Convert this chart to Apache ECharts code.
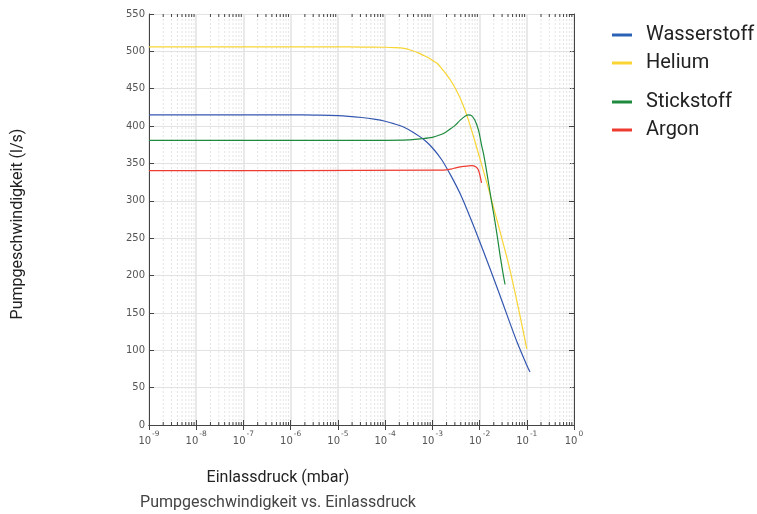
<!DOCTYPE html>
<html>
<head>
<meta charset="utf-8">
<script src="https://cdn.jsdelivr.net/npm/echarts@6/dist/echarts.min.js"></script>
<style>html,body{margin:0;padding:0;background:#fff;}#c{width:757px;height:514px;}</style>
</head>
<body>
<div id="c"></div>
<script>
// ---- data (pressure in mbar, pumping speed in l/s) ----
var wasserstoffP = [1e-9, 1e-8, 1e-7, 1e-6, 3.16e-6, 1e-5, 3.16e-5, 6.31e-5, 1e-4, 1.58e-4, 2.51e-4, 3.98e-4, 6.31e-4, 1e-3, 1.58e-3, 2.51e-3, 3.98e-3, 6.31e-3, 1e-2, 1.58e-2, 2.51e-2, 3.98e-2, 6.31e-2, 0.1, 0.117];
var wasserstoffS = [415, 415, 415, 415, 414.7, 414, 411.5, 409, 406.5, 403, 398.5, 391.5, 383, 371, 355, 333, 308, 278, 246, 213, 179, 144, 110, 80, 71];

var heliumP = [1e-9, 1e-6, 1e-5, 3.16e-5, 1e-4, 1.58e-4, 2.51e-4, 3.16e-4, 3.98e-4, 5.01e-4, 6.31e-4, 7.94e-4, 1e-3, 1.26e-3, 1.58e-3, 2e-3, 2.51e-3, 3.16e-3, 3.98e-3, 5.01e-3, 6.31e-3, 7.94e-3, 1e-2, 1.26e-2, 1.58e-2, 2e-2, 2.51e-2, 3.16e-2, 3.98e-2, 5.01e-2, 6.31e-2, 7.94e-2, 0.1];
var heliumS = [506, 506, 506, 505.8, 505.5, 505, 504, 502.5, 500.5, 498, 495, 492, 488, 484, 477, 469, 460, 449, 436, 420, 401, 380, 358, 336, 314, 290, 267, 243, 219, 192, 163, 133, 102];

var stickstoffP = [1e-9, 1e-6, 1e-4, 3.16e-4, 5.5e-4, 1e-3, 1.58e-3, 2.04e-3, 2.51e-3, 3.16e-3, 3.9e-3, 5.01e-3, 5.9e-3, 6.76e-3, 7.94e-3, 9.55e-3, 1.1e-2, 1.23e-2, 1.45e-2, 1.7e-2, 2e-2, 2.34e-2, 2.75e-2, 3.16e-2, 3.47e-2];
var stickstoffS = [381, 381, 381, 381.5, 383, 385, 389, 393, 397, 402, 408, 413.5, 415, 414, 408, 394, 375, 361, 335, 308, 282, 255, 225, 202, 188];

var argonP = [1e-9, 1e-6, 1e-3, 1.7e-3, 2.51e-3, 3.3e-3, 4.6e-3, 6.8e-3, 8.3e-3, 9.5e-3, 1.1e-2];
var argonS = [340.5, 340.5, 341, 341, 342.5, 344.5, 346, 347, 345.5, 341, 324];

var seriesNames = ['Wasserstoff', 'Helium', 'Stickstoff', 'Argon'];
var seriesColors = ['#3457b0', '#f8d534', '#1f8a3e', '#ee3b30'];
var legendColors = ['#2b62b5', '#f8d534', '#1f8a3e', '#ee3b30'];

var xMin = 1e-9, xMax = 1;
var yMin = 0, yMax = 550, yStep = 50;

var xTitle = 'Einlassdruck (mbar)';
var yTitle = 'Pumpgeschwindigkeit (l/s)';
var subTitle = 'Pumpgeschwindigkeit vs. Einlassdruck';

// minor log ticks 2..9 per decade (axis decoration)
var minorX = [];
for (var e = -9; e < 0; e++) {
  for (var m = 2; m <= 9; m++) minorX.push(m * Math.pow(10, e));
}

function pairs(p, s) { return p.map(function (v, i) { return [v, s[i]]; }); }

var chart = echarts.init(document.getElementById('c'), null, {renderer: 'canvas'});

var labelFont = 'DejaVu Sans';
var textFont = 'Roboto';

function legendCfg(names, colors, top) {
  return {
    data: names.map(function (n, i) { return {name: n, itemStyle: {color: colors[i]}}; }),
    orient: 'vertical', left: 612, top: top, padding: 0, icon: 'rect', itemWidth: 20, itemHeight: 3, itemGap: 8,
    textStyle: {fontFamily: textFont, fontSize: 20, color: '#222', padding: [0, 0, 0, 9]}
  };
}

var option = {
  animation: false,
  backgroundColor: '#fff',
  grid: {left: 149, top: 14, width: 425, height: 411, containLabel: false},
  legend: [
    legendCfg([seriesNames[0], seriesNames[1]], [legendColors[0], legendColors[1]], 25),
    legendCfg([seriesNames[2], seriesNames[3]], [legendColors[2], legendColors[3]], 92)
  ],
  xAxis: [
    {
      type: 'log', logBase: 10, min: xMin, max: xMax, interval: 1, position: 'bottom',
      axisLine: {lineStyle: {color: '#444', width: 1}},
      axisTick: {inside: true, length: 5, lineStyle: {color: '#444'}},
      splitLine: {show: true, lineStyle: {color: '#e2e2e2', width: 1.5}},
      axisLabel: {
        margin: 5,
        formatter: function (v) {
          var ex = Math.round(Math.log(v) / Math.LN10);
          return '{b|10}{e|' + ex + '}';
        },
        rich: {
          b: {fontFamily: labelFont, fontSize: 10, color: '#555', lineHeight: 16, verticalAlign: 'bottom'},
          e: {fontFamily: labelFont, fontSize: 7.5, color: '#555', lineHeight: 16, verticalAlign: 'top', padding: [0, 0, 0, 1]}
        }
      }
    },
    {
      type: 'log', logBase: 10, min: xMin, max: xMax, interval: 1, position: 'top',
      axisLine: {lineStyle: {color: '#444', width: 1}},
      axisTick: {inside: true, length: 5, lineStyle: {color: '#444'}},
      splitLine: {show: false}, axisLabel: {show: false}
    }
  ],
  yAxis: [
    {
      type: 'value', min: yMin, max: yMax, interval: yStep, position: 'left',
      axisLine: {show: true, lineStyle: {color: '#444', width: 1}},
      axisTick: {show: true, inside: true, length: 5, lineStyle: {color: '#444'}},
      splitLine: {show: true, lineStyle: {color: '#e2e2e2', width: 1}},
      axisLabel: {margin: 4, fontFamily: labelFont, fontSize: 10, color: '#555'}
    },
    {
      type: 'value', min: yMin, max: yMax, interval: yStep, position: 'right',
      axisLine: {show: true, lineStyle: {color: '#444', width: 1}},
      axisTick: {show: true, inside: true, length: 5, lineStyle: {color: '#444'}},
      splitLine: {show: false}, axisLabel: {show: false}
    }
  ],
  graphic: [
    {
      type: 'text', x: 278, y: 478,
      style: {text: xTitle, fontFamily: textFont, fontSize: 16, fill: '#222', textAlign: 'center', textVerticalAlign: 'middle'}
    },
    {
      type: 'text', x: 278, y: 503,
      style: {text: subTitle, fontFamily: textFont, fontSize: 16, fill: '#444', textAlign: 'center', textVerticalAlign: 'middle'}
    },
    {
      type: 'text', x: 18, y: 224, rotation: Math.PI / 2,
      style: {text: yTitle, fontFamily: textFont, fontSize: 16, fill: '#222', textAlign: 'center', textVerticalAlign: 'middle'}
    }
  ],
  series: [
    {
      type: 'custom', name: 'minorGrid', silent: true, xAxisIndex: 0, yAxisIndex: 0, z: 1,
      data: minorX.map(function (v) { return [v]; }),
      renderItem: function (params, api) {
        var v = api.value(0);
        var pb = api.coord([v, yMin]);
        var pt = api.coord([v, yMax]);
        return {
          type: 'group',
          children: [
            {type: 'line', shape: {x1: pb[0], y1: pb[1], x2: pt[0], y2: pt[1]},
              style: {stroke: '#e4e4e4', lineWidth: 1, lineDash: [2, 2]}},
            {type: 'line', shape: {x1: pb[0], y1: pb[1], x2: pb[0], y2: pb[1] - 3},
              style: {stroke: '#444', lineWidth: 1}},
            {type: 'line', shape: {x1: pt[0], y1: pt[1], x2: pt[0], y2: pt[1] + 3},
              style: {stroke: '#444', lineWidth: 1}}
          ]
        };
      }
    },
    {name: seriesNames[0], type: 'line', data: pairs(wasserstoffP, wasserstoffS), smooth: 0.3, showSymbol: false,
      lineStyle: {color: seriesColors[0], width: 1.2}, itemStyle: {color: seriesColors[0]}, z: 5},
    {name: seriesNames[1], type: 'line', data: pairs(heliumP, heliumS), smooth: 0.3, showSymbol: false,
      lineStyle: {color: seriesColors[1], width: 1.2}, itemStyle: {color: seriesColors[1]}, z: 5},
    {name: seriesNames[2], type: 'line', data: pairs(stickstoffP, stickstoffS), smooth: 0.3, showSymbol: false,
      lineStyle: {color: seriesColors[2], width: 1.2}, itemStyle: {color: seriesColors[2]}, z: 5},
    {name: seriesNames[3], type: 'line', data: pairs(argonP, argonS), smooth: 0.3, showSymbol: false,
      lineStyle: {color: seriesColors[3], width: 1.2}, itemStyle: {color: seriesColors[3]}, z: 5}
  ]
};
chart.setOption(option);
</script>
</body>
</html>
